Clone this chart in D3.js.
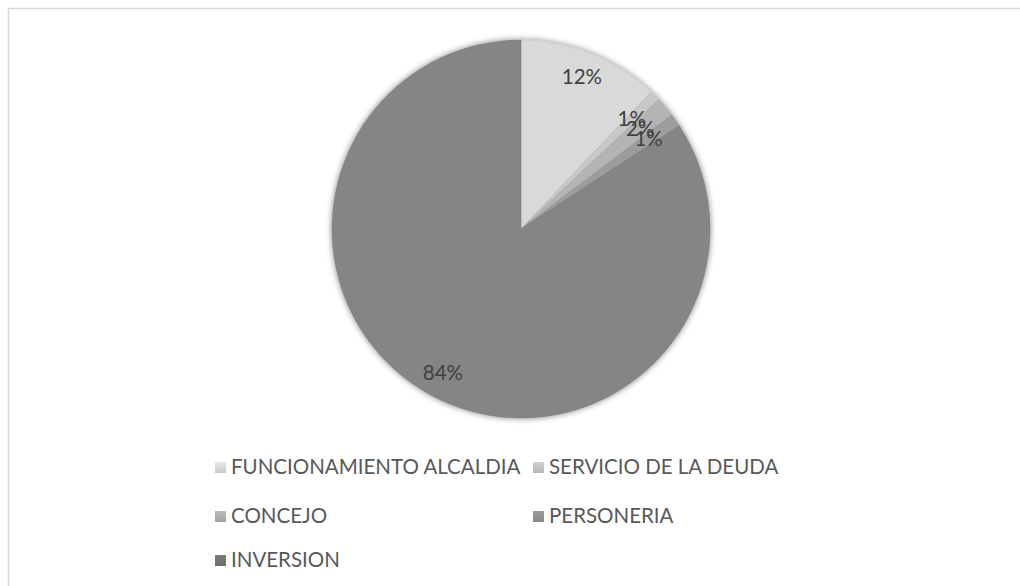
<!DOCTYPE html>
<html>
<head>
<meta charset="utf-8">
<script src="https://cdn.jsdelivr.net/npm/d3@7"></script>
<style>
  body { margin: 0; background: #fff; overflow: hidden; }
  svg { display: block; }
</style>
</head>
<body>
<div id="chart-container"></div>
<script>
// data (share of budget, %)
const categories = ['FUNCIONAMIENTO ALCALDIA', 'SERVICIO DE LA DEUDA', 'CONCEJO', 'PERSONERIA', 'INVERSION'];
const values = [12.1, 0.9, 1.7, 1.1, 84.2];
const labels = ['12%', '1%', '2%', '1%', '84%'];
const colors = ['#d9d9d9', '#c8c8c8', '#b4b4b4', '#9d9d9d', '#858585'];
const swatchColors = ['#d4d4d4', '#c0c0c0', '#aaaaaa', '#909090', '#727272'];

window.onload = () => {
  const width = 1020;
  const height = 586;
  const cx = 521;
  const cy = 229;
  const radius = 189;
  const labelRadius = 164;
  const smallLabelRadius = 156; // tiny slices sit a bit further in, as Excel does

  const svg = d3.select('div#chart-container')
    .append('svg')
    .attr('width', width)
    .attr('height', height);

  const defs = svg.append('defs');
  const shadow = defs.append('filter')
    .attr('id', 'shadow')
    .attr('x', '-20%').attr('y', '-20%')
    .attr('width', '140%').attr('height', '140%');
  shadow.append('feGaussianBlur').attr('in', 'SourceAlpha').attr('stdDeviation', 3);
  shadow.append('feOffset').attr('dx', 0).attr('dy', 0).attr('result', 'blur');
  shadow.append('feComponentTransfer').append('feFuncA').attr('type', 'linear').attr('slope', 0.5);
  const merge = shadow.append('feMerge');
  merge.append('feMergeNode');
  merge.append('feMergeNode').attr('in', 'SourceGraphic');

  swatchColors.forEach((c, i) => {
    const g = defs.append('linearGradient')
      .attr('id', 'sw' + i)
      .attr('x1', 0).attr('y1', 0).attr('x2', 0).attr('y2', 1);
    g.append('stop').attr('offset', '0%').attr('stop-color', d3.color(c).brighter(0.25));
    g.append('stop').attr('offset', '100%').attr('stop-color', d3.color(c).darker(0.15));
  });

  // chart frame (runs off the right and bottom of the picture)
  svg.append('rect')
    .attr('x', 8.5)
    .attr('y', 8.5)
    .attr('width', 1100)
    .attr('height', 700)
    .attr('fill', '#fff')
    .attr('stroke', '#d9d9d9')
    .attr('stroke-width', 1.5);

  const pie = d3.pie().sort(null).value(d => d);
  const arcs = pie(values);
  const arc = d3.arc().innerRadius(0).outerRadius(radius);
  const labelArc = d3.arc().innerRadius(labelRadius).outerRadius(labelRadius);
  const smallLabelArc = d3.arc().innerRadius(smallLabelRadius).outerRadius(smallLabelRadius);

  const g = svg.append('g')
    .attr('transform', `translate(${cx},${cy})`);

  g.append('g')
    .attr('filter', 'url(#shadow)')
    .selectAll('path')
    .data(arcs)
    .enter()
    .append('path')
    .attr('d', arc)
    .attr('fill', (_, i) => colors[i])
    .attr('stroke', (_, i) => d3.color(colors[i]).darker(0.3))
    .attr('stroke-width', 0.5);

  g.selectAll('text.slice-label')
    .data(arcs)
    .enter()
    .append('text')
    .attr('class', 'slice-label')
    .attr('transform', d => {
      const a = (d.endAngle - d.startAngle) < 0.2 ? smallLabelArc : labelArc;
      return `translate(${a.centroid(d)})`;
    })
    .attr('text-anchor', 'middle')
    .attr('dy', '0.35em')
    .style('font-family', 'Lato, "Open Sans", sans-serif')
    .style('font-size', '20.5px')
    .style('fill', '#404040')
    .text((_, i) => labels[i]);

  // legend, two columns
  const colX = [215, 533];
  const rowY = [467, 516, 560];
  const legend = svg.append('g');
  const item = legend.selectAll('g')
    .data(categories)
    .enter()
    .append('g')
    .attr('transform', (_, i) => `translate(${colX[i % 2]},${rowY[Math.floor(i / 2)]})`);

  item.append('rect')
    .attr('x', 0)
    .attr('y', -5)
    .attr('width', 11)
    .attr('height', 11)
    .attr('fill', (_, i) => `url(#sw${i})`);

  item.append('text')
    .attr('x', 16)
    .attr('y', 0)
    .attr('dy', '0.35em')
    .style('font-family', 'Lato, "Open Sans", sans-serif')
    .style('font-size', '20.5px')
    .style('fill', '#595959')
    .text(d => d);
};
</script>
</body>
</html>
